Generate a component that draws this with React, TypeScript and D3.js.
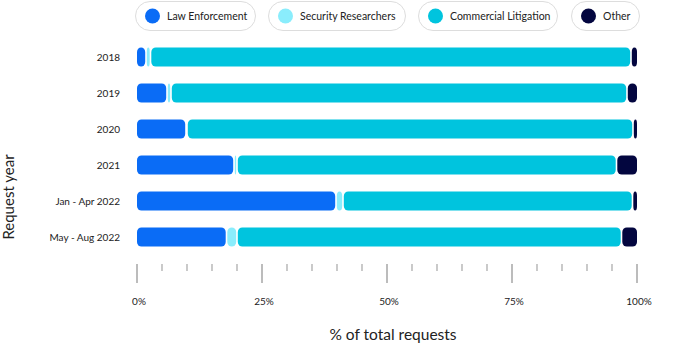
import React from "react";
import * as d3 from "d3";

const categories = ["2018", "2019", "2020", "2021", "Jan - Apr 2022", "May - Aug 2022"];
const lawEnforcement = [1.8, 6.0, 9.8, 19.4, 39.8, 17.9];
const securityResearchers = [0.9, 0.8, 0.2, 0.6, 1.4, 2.1];
const commercialLitigation = [96.1, 91.2, 89.2, 75.9, 57.9, 76.9];
const other = [1.2, 2.0, 0.8, 4.1, 0.9, 3.1];
const seriesNames = ["Law Enforcement", "Security Researchers", "Commercial Litigation", "Other"];
const seriesColors = ["#0a6cf6", "#8aedfc", "#00c4de", "#03063f"];
const tickValues = [0, 25, 50, 75, 100];

const W = 700;
const H = 357;
const FONT = "Lato, 'Open Sans', sans-serif";

export default function App() {
  const x = d3.scaleLinear().domain([0, 100]).range([137, 637]);
  const y = d3.scalePoint<string>().domain(categories).range([57, 237]);
  const barH = 19;

  const rows = categories.map((c, i) => ({
    cat: c,
    s0: lawEnforcement[i],
    s1: securityResearchers[i],
    s2: commercialLitigation[i],
    s3: other[i],
  }));
  const stack = d3.stack<any>().keys(["s0", "s1", "s2", "s3"]);
  const stacked = stack(rows);

  const minor = d3.range(0, 101, 5);

  const pills = [
    { x0: 135, x1: 256 },
    { x0: 268, x1: 406 },
    { x0: 418, x1: 558 },
    { x0: 571, x1: 640 },
  ];

  return (
    <svg
      width={W}
      height={H}
      style={{ position: "absolute", left: 0, top: 0, background: "#fff" }}
      fontFamily={FONT}
    >
      {seriesNames.map((name, i) => (
        <g key={name}>
          <rect
            x={pills[i].x0 + 0.5}
            y={1.5}
            width={pills[i].x1 - pills[i].x0 - 1}
            height={29}
            rx={14.5}
            fill="#fff"
            stroke="#dddddd"
            strokeWidth={1}
          />
          <circle cx={pills[i].x0 + 17.5} cy={16} r={7.5} fill={seriesColors[i]} />
          <text x={pills[i].x0 + 32} y={16} dy="0.35em" fontSize={10.5} fill="#222">
            {name}
          </text>
        </g>
      ))}

      {stacked.map((layer, si) => (
        <g key={si} fill={seriesColors[si]}>
          {layer.map((d, ci) => {
            const gap = 0.8;
            const xs = x(d[0]) + (d[0] > 0 ? gap : 0);
            const xe = x(d[1]) - (d[1] < 99.99 ? gap : 0);
            const w = xe - xs;
            if (w < 1) return null;
            const cy = y(categories[ci]) as number;
            return (
              <rect
                key={ci}
                x={xs}
                y={cy - barH / 2}
                width={w}
                height={barH}
                rx={Math.min(4.5, w / 2)}
                ry={4.5}
              />
            );
          })}
        </g>
      ))}

      {categories.map((c) => (
        <text
          key={c}
          x={120}
          y={y(c) as number}
          dy="0.35em"
          textAnchor="end"
          fontSize={10}
          fill="#222"
        >
          {c}
        </text>
      ))}

      {minor.map((v) => {
        const major = v % 25 === 0;
        return (
          <line
            key={v}
            x1={x(v)}
            x2={x(v)}
            y1={264}
            y2={major ? 283 : 271}
            stroke="#a6a6a6"
            strokeWidth={major ? 1.5 : 1.2}
          />
        );
      })}
      {tickValues.map((v) => (
        <text
          key={v}
          x={x(v) + 2}
          y={301}
          dy="0.35em"
          textAnchor="middle"
          fontSize={10}
          fill="#222"
        >
          {v + "%"}
        </text>
      ))}

      <text x={393} y={335} dy="0.35em" textAnchor="middle" fontSize={15.5} fill="#222">
        % of total requests
      </text>
      <text
        transform={`translate(9,197) rotate(-90)`}
        dy="0.35em"
        textAnchor="middle"
        fontSize={15}
        fill="#222"
      >
        Request year
      </text>
    </svg>
  );
}
